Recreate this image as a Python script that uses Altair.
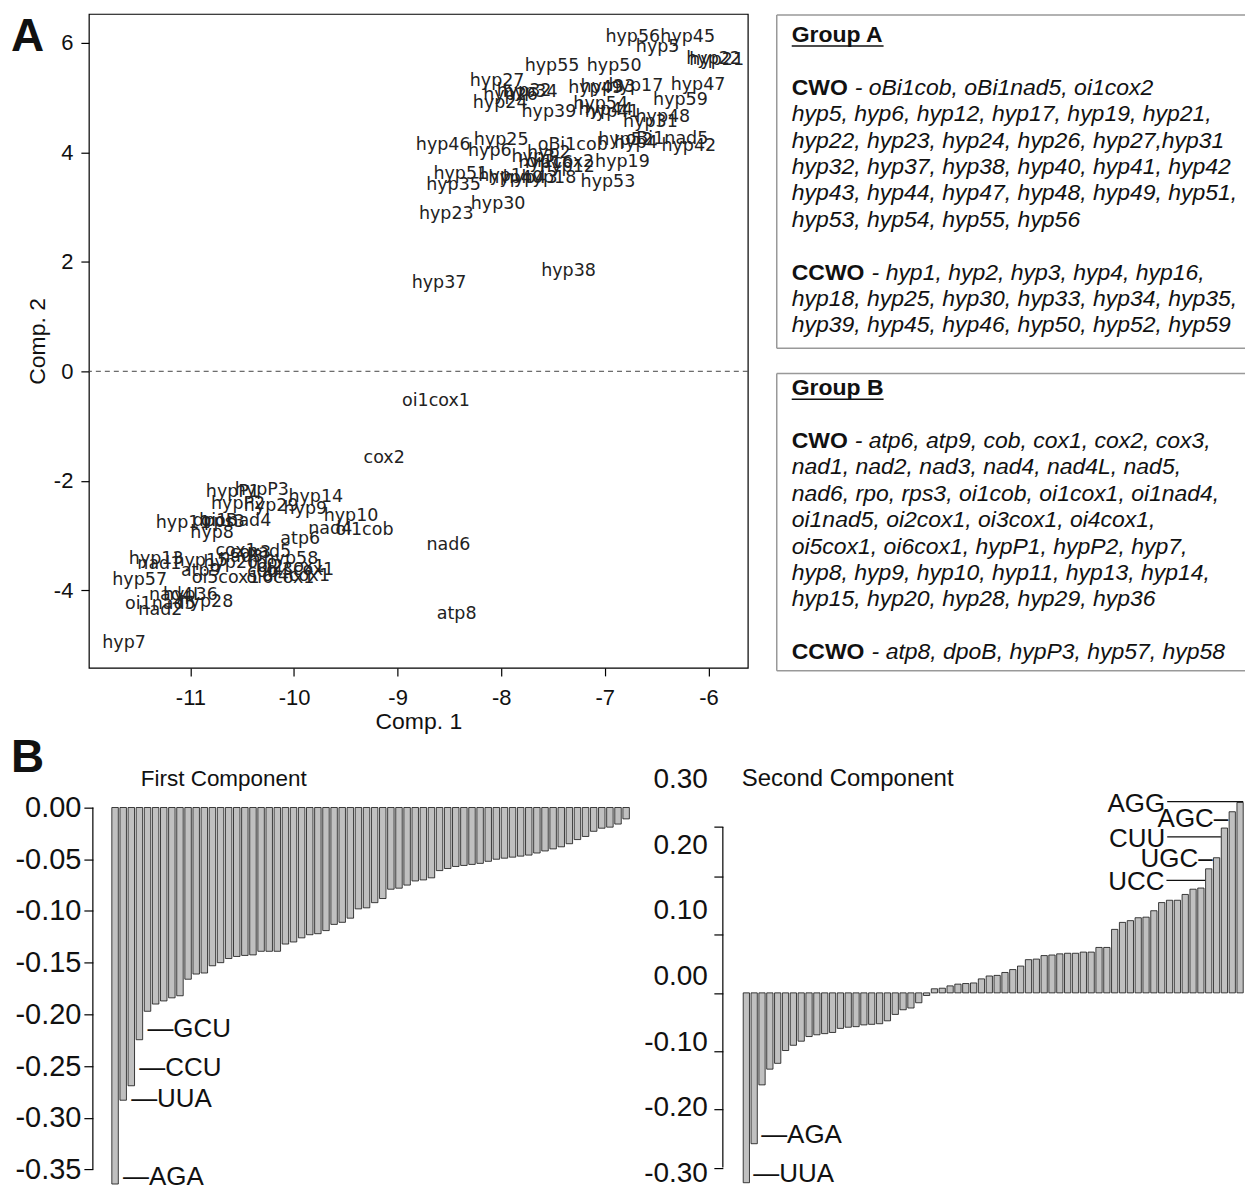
import altair as alt
import pandas as pd

FONT = "Liberation Sans"

# ---------------- Panel A : principal component scores ----------------
GENES = [
    "hyp56", "hyp45", "hyp5", "hyp22", "hyp21", "hyp55", "hyp50", "hyp27", "hyp33", "hyp17",
    "hyp49", "hyp47", "hyp34", "hyp32", "hyp26", "hyp24", "hyp54", "hyp59", "hyp39", "hyp44",
    "hyp41", "hyp48", "hyp31", "oBi1nad5", "hyp25", "hyp46", "hyp6", "oBi1cob", "hyp52", "hyp4",
    "hyp42", "hyp2", "hyp3", "hyp19", "hyp12", "oi1cox2", "hyp16", "hyp51", "hyp1", "hyp40",
    "hyp43", "hyp18", "hyp35", "hyp53", "hyp30", "hyp23", "hyp37", "hyp38",
    "oi1cox1", "cox2", "nad6", "atp8", "hyp7", "hypP3", "hypP1", "hyp14", "hypP2", "hyp29",
    "hyp9", "hyp10", "hyp11", "oi1nad4", "rps3", "dpoB", "nad4", "oi1cob", "hyp8", "atp6",
    "cox1", "nad5", "hyp58", "cox3", "hyp13", "nad1", "hyp15", "hyp20", "rpo", "oi2cox1",
    "oi3cox1", "atp9", "cob", "oi5cox1", "oi4cox1", "oi6cox1", "hyp57", "hyp36", "nad4L", "hyp28",
    "oi1nad5", "nad2", "nad3",
]
COMP1 = [
    -6.73, -6.20, -6.49, -5.95, -5.92, -7.51, -6.91, -8.04, -6.97, -6.70,
    -7.09, -6.10, -7.72, -7.78, -7.91, -8.01, -7.04, -6.27, -7.54, -6.99,
    -6.93, -6.44, -6.56, -6.40, -8.00, -8.56, -8.11, -7.31, -6.80, -6.70,
    -6.19, -7.54, -7.69, -6.83, -7.36, -7.43, -7.57, -8.39, -8.01, -7.86,
    -7.72, -7.54, -8.46, -6.97, -8.03, -8.53, -8.60, -7.35,
    -8.63, -9.13, -8.51, -8.43, -11.64, -10.31, -10.59, -9.79, -10.54, -10.22,
    -9.89, -9.45, -11.07, -10.56, -10.66, -10.76, -9.65, -9.32, -10.79, -9.94,
    -10.56, -10.24, -10.03, -10.42, -11.33, -11.30, -10.90, -10.61, -10.30, -10.03,
    -9.94, -10.90, -10.30, -10.66, -9.98, -10.13, -11.49, -11.00, -11.14, -10.85,
    -11.29, -11.29, -10.51,
]
COMP2 = [
    6.11, 6.11, 5.93, 5.71, 5.69, 5.57, 5.57, 5.31, 5.20, 5.22,
    5.18, 5.24, 5.11, 5.13, 5.05, 4.91, 4.89, 4.95, 4.73, 4.78,
    4.74, 4.64, 4.56, 4.25, 4.22, 4.14, 4.03, 4.14, 4.22, 4.18,
    4.11, 3.98, 3.91, 3.83, 3.74, 3.83, 3.80, 3.61, 3.56, 3.54,
    3.54, 3.54, 3.41, 3.45, 3.05, 2.88, 1.62, 1.84,
    -0.55, -1.59, -3.18, -4.43, -4.96, -2.17, -2.21, -2.30, -2.43, -2.46,
    -2.52, -2.65, -2.77, -2.74, -2.76, -2.74, -2.88, -2.90, -2.96, -3.07,
    -3.28, -3.30, -3.43, -3.32, -3.43, -3.52, -3.47, -3.50, -3.50, -3.58,
    -3.63, -3.65, -3.67, -3.78, -3.74, -3.78, -3.81, -4.09, -4.09, -4.22,
    -4.25, -4.36, -3.39,
]
A_X_TICKS = [-11, -10, -9, -8, -7, -6]
A_Y_TICKS = [-4, -2, 0, 2, 4, 6]

# ---------------- Group boxes ----------------
GROUP_A_CWO = [
    "oBi1cob, oBi1nad5, oi1cox2",
    "hyp5, hyp6, hyp12, hyp17, hyp19, hyp21,",
    "hyp22, hyp23, hyp24, hyp26, hyp27,hyp31",
    "hyp32, hyp37, hyp38, hyp40, hyp41, hyp42",
    "hyp43, hyp44, hyp47, hyp48, hyp49, hyp51,",
    "hyp53, hyp54, hyp55, hyp56",
]
GROUP_A_CCWO = [
    "hyp1, hyp2, hyp3, hyp4, hyp16,",
    "hyp18, hyp25, hyp30, hyp33, hyp34, hyp35,",
    "hyp39, hyp45, hyp46, hyp50, hyp52, hyp59",
]
GROUP_B_CWO = [
    "atp6, atp9, cob, cox1, cox2, cox3,",
    "nad1, nad2, nad3, nad4, nad4L, nad5,",
    "nad6, rpo, rps3, oi1cob, oi1cox1, oi1nad4,",
    "oi1nad5, oi2cox1, oi3cox1, oi4cox1,",
    "oi5cox1, oi6cox1, hypP1, hypP2, hyp7,",
    "hyp8, hyp9, hyp10, hyp11, hyp13, hyp14,",
    "hyp15, hyp20, hyp28, hyp29, hyp36",
]
GROUP_B_CCWO = ["atp8, dpoB, hypP3, hyp57, hyp58"]

# ---------------- Panel B : loadings (sorted) ----------------
FIRST_LOADINGS = [
    -0.364, -0.283, -0.269, -0.2245, -0.197, -0.190, -0.187, -0.184, -0.182, -0.166,
    -0.161, -0.160, -0.153, -0.150, -0.146, -0.144, -0.143, -0.1425, -0.139, -0.139,
    -0.139, -0.132, -0.130, -0.126, -0.123, -0.122, -0.119, -0.113, -0.111, -0.107,
    -0.098, -0.097, -0.092, -0.088, -0.079, -0.078, -0.075, -0.071, -0.070, -0.068,
    -0.061, -0.059, -0.057, -0.056, -0.055, -0.054, -0.052, -0.050, -0.049, -0.048,
    -0.047, -0.046, -0.044, -0.042, -0.040, -0.038, -0.035, -0.031, -0.028, -0.023,
    -0.020, -0.019, -0.016, -0.011,
]
SECOND_LOADINGS = [
    -0.326, -0.259, -0.158, -0.131, -0.121, -0.099, -0.090, -0.083, -0.075, -0.072,
    -0.070, -0.068, -0.061, -0.059, -0.058, -0.055, -0.054, -0.053, -0.048, -0.037,
    -0.029, -0.026, -0.017, -0.0045,
    0.007, 0.008, 0.012, 0.015, 0.016, 0.017, 0.024, 0.029, 0.030, 0.035,
    0.040, 0.046, 0.057, 0.058, 0.064, 0.065, 0.067, 0.068, 0.068, 0.070,
    0.070, 0.078, 0.078, 0.109, 0.121, 0.124, 0.129, 0.130, 0.141, 0.155,
    0.159, 0.159, 0.169, 0.178, 0.180, 0.213, 0.232, 0.283, 0.311, 0.327,
]
FIRST_TICKS = [0.0, -0.05, -0.10, -0.15, -0.20, -0.25, -0.30, -0.35]
SECOND_TICKS = [0.30, 0.20, 0.10, 0.0, -0.10, -0.20, -0.30]
FIRST_CODONS = ["AGA", "UUA", "CCU", "GCU"]
FIRST_CODON_RANKS = [1, 2, 3, 4]
FIRST_CODON_LABEL_AT = [-0.357, -0.2815, -0.252, -0.2145]
SECOND_LOW_CODONS = ["UUA", "AGA"]
SECOND_LOW_RANKS = [1, 2]
SECOND_LEADER_CODONS = ["UCC", "CUU", "AGG"]
SECOND_LEADER_RANKS = [60, 62, 64]
SECOND_LEADER_LABEL_AT = [0.193, 0.268, 0.3283]
SECOND_LEADER_FROM = [54.6, 54.7, 54.7]
SECOND_DASH_CODONS = ["UGC", "AGC"]
SECOND_DASH_RANKS = [61, 63]
SECOND_DASH_LABEL_AT = [0.229, 0.299]

HYPHEN_INT = "replace(format(datum.value, 'd'), '\u2212', '-')"
HYPHEN_2F = "replace(format(datum.value, '.2f'), '\u2212', '-')"

# =====================================================================
# Panel A
a_df = pd.DataFrame({"gene": GENES, "comp1": COMP1, "comp2": COMP2})
xa = alt.Scale(domain=[-11.98, -5.62], nice=False, zero=False)
ya = alt.Scale(domain=[-5.42, 6.53], nice=False, zero=False)

axis_common = dict(grid=False, domain=False, tickSize=8, tickColor="black", tickWidth=1.2,
                   labelFont=FONT, labelFontSize=22, labelColor="#111", labelExpr=HYPHEN_INT,
                   titleFont=FONT, titleFontSize=23, titleFontWeight="normal", titleColor="#111")

a_labels = alt.Chart(a_df).mark_text(font="DejaVu Sans", fontSize=17.5, color="#222").encode(
    x=alt.X("comp1:Q", scale=xa,
            axis=alt.Axis(values=A_X_TICKS, title="Comp. 1", labelPadding=12, titlePadding=2, **axis_common)),
    y=alt.Y("comp2:Q", scale=ya,
            axis=alt.Axis(values=A_Y_TICKS, title="Comp. 2", labelPadding=8, titlePadding=4, **axis_common)),
    text="gene:N",
)
a_zero = alt.Chart(pd.DataFrame({"z": [0]})).mark_rule(
    strokeDash=[5, 4], color="#444", strokeWidth=1).encode(y=alt.datum(0))
a_tag = alt.Chart(pd.DataFrame({"tag": ["A"]})).mark_text(
    font=FONT, fontWeight="bold", fontSize=46, align="left", baseline="middle", color="#111"
).encode(x=alt.value(-78), y=alt.value(23), text="tag:N")

panel_a = alt.layer(a_zero, a_labels, a_tag).properties(
    width=660, height=655, view=alt.ViewBackground(stroke="black", strokeWidth=1.2))

# Boxes
B_OFF = 13.38
rows = alt.Scale(domain=[-0.794, 23.97], reverse=True, nice=False, zero=False)
BOX_FS = 23

title_df = pd.DataFrame({"row": [0, B_OFF], "txt": ["Group A", "Group B"]})
head_df = pd.DataFrame({"row": [2, 9, B_OFF + 2, B_OFF + 10], "txt": ["CWO", "CCWO", "CWO", "CCWO"]})
cwo_first = pd.DataFrame({"row": [2, B_OFF + 2], "txt": ["- " + GROUP_A_CWO[0], "- " + GROUP_B_CWO[0]]})
ccwo_first = pd.DataFrame({"row": [9, B_OFF + 10], "txt": ["- " + GROUP_A_CCWO[0], "- " + GROUP_B_CCWO[0]]})
cont_rows, cont_txt = [], []
for start, lines in [(2, GROUP_A_CWO), (9, GROUP_A_CCWO), (B_OFF + 2, GROUP_B_CWO), (B_OFF + 10, GROUP_B_CCWO)]:
    for i, line in enumerate(lines[1:], start=1):
        cont_rows.append(start + i)
        cont_txt.append(line)
cont_df = pd.DataFrame({"row": cont_rows, "txt": cont_txt})

box_titles = alt.Chart(title_df).mark_text(
    font=FONT, fontWeight="bold", fontSize=BOX_FS, align="left", baseline="middle", color="#111"
).encode(x=alt.value(15), y=alt.Y("row:Q", scale=rows, axis=None), text="txt:N")
box_underline = alt.Chart(title_df).transform_calculate(u="datum.row + 0.42").mark_rule(
    color="#111", strokeWidth=1.5).encode(x=alt.value(15), x2=alt.value(107), y=alt.Y("u:Q", scale=rows, axis=None))
box_heads = alt.Chart(head_df).mark_text(
    font=FONT, fontWeight="bold", fontSize=BOX_FS, align="left", baseline="middle", color="#111"
).encode(x=alt.value(15), y=alt.Y("row:Q", scale=rows, axis=None), text="txt:N")
italic = dict(font=FONT, fontStyle="italic", fontSize=BOX_FS, align="left", baseline="middle", color="#111")
box_cwo = alt.Chart(cwo_first).mark_text(**italic).encode(
    x=alt.value(78), y=alt.Y("row:Q", scale=rows, axis=None), text="txt:N")
box_ccwo = alt.Chart(ccwo_first).mark_text(**italic).encode(
    x=alt.value(95), y=alt.Y("row:Q", scale=rows, axis=None), text="txt:N")
box_cont = alt.Chart(cont_df).mark_text(**italic).encode(
    x=alt.value(15), y=alt.Y("row:Q", scale=rows, axis=None), text="txt:N")
frame_h = alt.Chart(pd.DataFrame({"row": [-0.756, 11.87, 12.82, 24.08]})).mark_rule(
    color="#999", strokeWidth=1.5).encode(x=alt.value(0), x2=alt.value(469), y=alt.Y("row:Q", scale=rows, axis=None))
frame_v = alt.Chart(pd.DataFrame({"top": [-0.756, 12.82], "bot": [11.87, 24.08]})).mark_rule(
    color="#999", strokeWidth=1.5).encode(x=alt.value(0), y=alt.Y("top:Q", scale=rows, axis=None), y2="bot:Q")

boxes = alt.layer(frame_h, frame_v, box_titles, box_underline, box_heads, box_cwo, box_ccwo, box_cont).properties(
    width=469, height=655)

# =====================================================================
# Panel B - first component
ANN_FS = 26
B_HEIGHT = 385
first_df = pd.DataFrame({"rank": list(range(1, 65)), "loading": FIRST_LOADINGS})
x1 = alt.Scale(domain=[-2.23, 64.6], nice=False, zero=False)
y1 = alt.Scale(domain=[-0.365, 0.0066], nice=False, zero=False)

bars1 = alt.Chart(first_df).transform_calculate(
    lo="datum.rank - 0.4", hi="datum.rank + 0.4"
).mark_bar(fill="#c0c0c0", stroke="#111", strokeWidth=0.8).encode(
    x=alt.X("lo:Q", scale=x1, axis=None), x2="hi:Q",
    y=alt.Y("loading:Q", scale=y1, axis=alt.Axis(
        values=FIRST_TICKS, labelExpr=HYPHEN_2F, title=None, grid=False, domain=False, offset=-4,
        tickSize=9, tickColor="black", tickWidth=1.2, labelFont=FONT, labelFontSize=29,
        labelColor="#111", labelPadding=3)),
    y2=alt.datum(0),
)
axis1 = alt.Chart(pd.DataFrame({"a": [0.0]})).mark_rule(color="black", strokeWidth=1.2).encode(
    x=alt.value(4), y=alt.datum(0.0), y2=alt.datum(-0.35))
ann1_df = pd.DataFrame({"rank": FIRST_CODON_RANKS, "at": FIRST_CODON_LABEL_AT,
                        "lab": ["\u2014" + c for c in FIRST_CODONS]})
ann1 = alt.Chart(ann1_df).mark_text(font=FONT, fontSize=ANN_FS, align="left", baseline="middle",
                                    dx=8, color="#111").encode(
    x=alt.X("rank:Q", scale=x1, axis=None), y=alt.Y("at:Q", scale=y1), text="lab:N")
b_tag = alt.Chart(pd.DataFrame({"tag": ["B"]})).mark_text(
    font=FONT, fontWeight="bold", fontSize=46, align="left", baseline="middle", color="#111"
).encode(x=alt.value(-78), y=alt.value(-43), text="tag:N")
title1 = alt.Chart(pd.DataFrame({"t": ["First Component"]})).mark_text(
    font=FONT, fontSize=22.5, align="left", baseline="middle", color="#111"
).encode(x=alt.value(52), y=alt.value(-22), text="t:N")

panel_b1 = alt.layer(bars1, axis1, ann1, b_tag, title1).properties(width=543, height=B_HEIGHT)

# Panel B - second component
second_df = pd.DataFrame({"rank": list(range(1, 65)), "loading": SECOND_LOADINGS})
x2 = alt.Scale(domain=[0.55, 64.5], nice=False, zero=False)
y2 = alt.Scale(domain=[-0.33, 0.33], nice=False, zero=False)
ylab = alt.Scale(domain=[-0.3166, 0.2684], nice=False, zero=False)

bars2 = alt.Chart(second_df).transform_calculate(
    lo="datum.rank - 0.4", hi="datum.rank + 0.4", zero="0"
).mark_bar(fill="#c0c0c0", stroke="#111", strokeWidth=0.8).encode(
    x=alt.X("lo:Q", scale=x2, axis=None), x2="hi:Q",
    y=alt.Y("loading:Q", scale=y2, axis=alt.Axis(
        values=[-0.3, -0.2, -0.1, 0.0, 0.1, 0.2, 0.285], labels=False, title=None, grid=False,
        domain=False, offset=20, orient="left", tickSize=9, tickColor="black", tickWidth=1.2)),
    y2="zero:Q",
)
axis2 = alt.Chart(pd.DataFrame({"top": [0.285], "bot": [-0.30]})).mark_rule(
    color="black", strokeWidth=1.2).encode(
    x=alt.value(-20), y=alt.Y("top:Q", scale=y2, axis=None), y2="bot:Q")
lab2_df = pd.DataFrame({"v": SECOND_TICKS, "lab": [f"{v:.2f}" for v in SECOND_TICKS]})
labels2 = alt.Chart(lab2_df).mark_text(font=FONT, fontSize=28, align="right", baseline="middle",
                                       color="#111").encode(
    x=alt.value(-35), y=alt.Y("v:Q", scale=ylab, axis=None), text="lab:N")

low_df = pd.DataFrame({"rank": SECOND_LOW_RANKS,
                       "loading": [SECOND_LOADINGS[r - 1] for r in SECOND_LOW_RANKS],
                       "lab": ["\u2014" + c for c in SECOND_LOW_CODONS]})
ann2_low = alt.Chart(low_df).mark_text(font=FONT, fontSize=ANN_FS, align="left", baseline="middle",
                                       dx=7, dy=-9, color="#111").encode(
    x=alt.X("rank:Q", scale=x2, axis=None), y=alt.Y("loading:Q", scale=y2, axis=None), text="lab:N")

lead_df = pd.DataFrame({"rank": SECOND_LEADER_RANKS, "start": SECOND_LEADER_FROM,
                        "at": SECOND_LEADER_LABEL_AT, "lab": SECOND_LEADER_CODONS})
lead_rules = alt.Chart(lead_df).transform_calculate(
    end="datum.rank + (datum.rank == 64 ? 0.4 : -0.45)"
).mark_rule(color="#111", strokeWidth=1.2).encode(
    x=alt.X("start:Q", scale=x2, axis=None), x2="end:Q",
    y=alt.Y("at:Q", scale=y2, axis=None))
lead_text = alt.Chart(lead_df).mark_text(font=FONT, fontSize=ANN_FS, align="right", baseline="middle",
                                         dx=-2, dy=2, color="#111").encode(
    x=alt.X("start:Q", scale=x2, axis=None), y=alt.Y("at:Q", scale=y2, axis=None), text="lab:N")
dash_df = pd.DataFrame({"rank": SECOND_DASH_RANKS, "at": SECOND_DASH_LABEL_AT,
                        "lab": [c + "\u2013" for c in SECOND_DASH_CODONS]})
dash_text = alt.Chart(dash_df).mark_text(font=FONT, fontSize=ANN_FS, align="right", baseline="middle",
                                         dx=-4, color="#111").encode(
    x=alt.X("rank:Q", scale=x2, axis=None), y=alt.Y("at:Q", scale=y2, axis=None), text="lab:N")
title2 = alt.Chart(pd.DataFrame({"t": ["Second Component"]})).mark_text(
    font=FONT, fontSize=24, align="left", baseline="middle", color="#111"
).encode(x=alt.value(-1), y=alt.value(-22), text="t:N")

panel_b2 = alt.layer(bars2, axis2, labels2, ann2_low, lead_rules, lead_text, dash_text, title2).resolve_scale(
    y="independent").properties(width=502, height=B_HEIGHT)

top = alt.hconcat(panel_a, boxes, spacing=29, bounds="flush")
bottom = alt.hconcat(panel_b1, panel_b2, spacing=112, bounds="flush")
chart = alt.vconcat(top, bottom, spacing=0).properties(
    padding={"left": 2, "top": 4, "right": 0, "bottom": 0}
).configure_view(stroke=None)

chart.save("out.html", embed_options={"renderer": "svg", "actions": False})
